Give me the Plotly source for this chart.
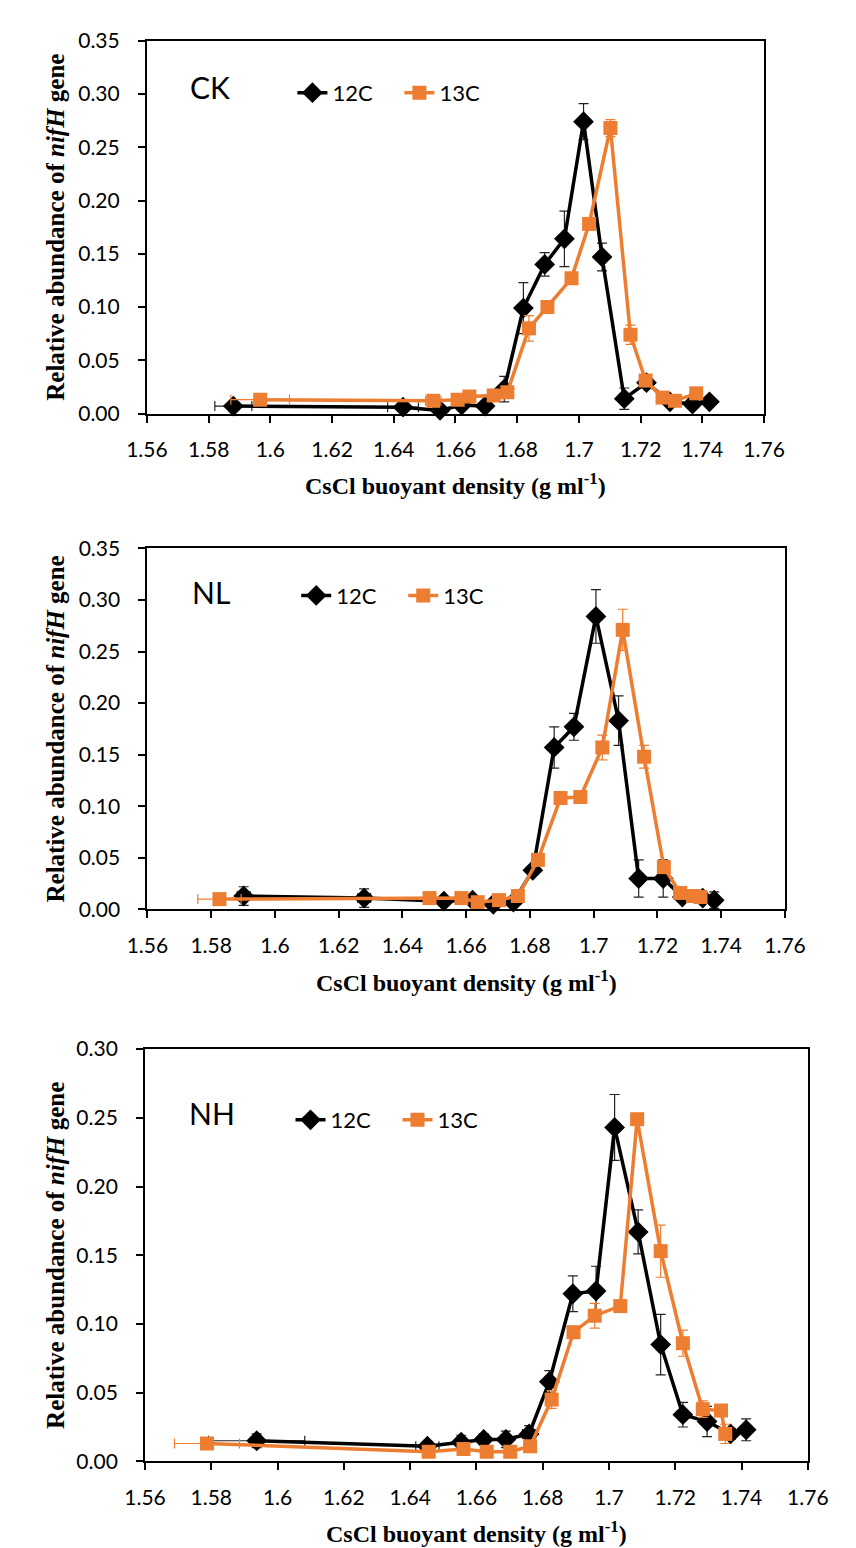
import plotly.graph_objects as go

# ---------------- data ----------------
panel_names = ["CK", "NL", "NH"]
series_names = ["12C", "13C"]

# CK
ck_x12 = [1.588, 1.643, 1.655, 1.662, 1.6696, 1.6758, 1.682, 1.6889, 1.6953, 1.7015, 1.7075, 1.7147, 1.7219, 1.7295, 1.7368, 1.7423]
ck_y12 = [0.007, 0.006, 0.003, 0.008, 0.007, 0.023, 0.099, 0.140, 0.164, 0.274, 0.147, 0.014, 0.029, 0.011, 0.009, 0.011]
ck_ey12 = [0.002, 0.002, 0.002, 0.003, 0.003, 0.012, 0.024, 0.011, 0.026, 0.017, 0.013, 0.010, 0.005, 0.003, 0.002, 0.003]
ck_ex12 = [0.006, 0.005, 0, 0, 0, 0, 0, 0, 0, 0, 0, 0, 0, 0, 0, 0.001]
ck_x13 = [1.5967, 1.6528, 1.6607, 1.6645, 1.6724, 1.6768, 1.6838, 1.6898, 1.6976, 1.7033, 1.7102, 1.7167, 1.7216, 1.7271, 1.7311, 1.738]
ck_y13 = [0.013, 0.012, 0.013, 0.016, 0.017, 0.020, 0.080, 0.100, 0.127, 0.178, 0.268, 0.074, 0.031, 0.015, 0.012, 0.019]
ck_ey13 = [0.002, 0.003, 0.002, 0.002, 0.002, 0.003, 0.012, 0.003, 0.003, 0.003, 0.008, 0.009, 0.003, 0.002, 0.002, 0.002]
ck_ex13 = [0.0095, 0.0025, 0.001, 0, 0, 0, 0, 0, 0, 0, 0, 0, 0, 0, 0, 0]

# NL
nl_x12 = [1.5902, 1.628, 1.653, 1.662, 1.6685, 1.6748, 1.6809, 1.6876, 1.6938, 1.7007, 1.7078, 1.7141, 1.7218, 1.7278, 1.7342, 1.7378]
nl_y12 = [0.013, 0.011, 0.008, 0.009, 0.005, 0.007, 0.038, 0.157, 0.177, 0.284, 0.183, 0.030, 0.030, 0.012, 0.011, 0.009]
nl_ey12 = [0.009, 0.009, 0.004, 0.003, 0.003, 0.004, 0.004, 0.020, 0.013, 0.026, 0.024, 0.018, 0.018, 0.004, 0.004, 0.008]
nl_ex12 = [0.002, 0.002, 0, 0, 0, 0, 0, 0, 0, 0, 0, 0, 0, 0, 0, 0]
nl_x13 = [1.5826, 1.6485, 1.6585, 1.6636, 1.6703, 1.6762, 1.6825, 1.6896, 1.6958, 1.7027, 1.7091, 1.7158, 1.722, 1.7271, 1.7311, 1.7335]
nl_y13 = [0.010, 0.011, 0.011, 0.007, 0.009, 0.013, 0.048, 0.108, 0.109, 0.157, 0.271, 0.148, 0.041, 0.016, 0.013, 0.012]
nl_ey13 = [0.002, 0.002, 0.002, 0.002, 0.002, 0.003, 0.004, 0.003, 0.003, 0.012, 0.020, 0.011, 0.004, 0.003, 0.002, 0.002]
nl_ex13 = [0.0068, 0, 0, 0, 0, 0, 0, 0, 0, 0, 0, 0, 0, 0, 0, 0]

# NH
nh_x12 = [1.5937, 1.6452, 1.6554, 1.6622, 1.6689, 1.6759, 1.682, 1.6891, 1.6961, 1.7017, 1.7088, 1.7156, 1.7223, 1.7296, 1.7367, 1.7414]
nh_y12 = [0.015, 0.011, 0.014, 0.016, 0.016, 0.020, 0.058, 0.122, 0.124, 0.243, 0.167, 0.085, 0.034, 0.029, 0.020, 0.023]
nh_ey12 = [0.005, 0.003, 0.005, 0.004, 0.006, 0.006, 0.008, 0.013, 0.018, 0.024, 0.016, 0.022, 0.009, 0.011, 0.004, 0.008]
nh_ex12 = [0.0145, 0.0035, 0, 0, 0, 0.002, 0, 0, 0, 0, 0, 0, 0, 0, 0, 0.001]
nh_x13 = [1.5787, 1.6456, 1.6561, 1.6631, 1.6702, 1.6762, 1.6827, 1.6893, 1.6957, 1.7034, 1.7085, 1.7156, 1.7223, 1.7283, 1.7338, 1.7351]
nh_y13 = [0.013, 0.007, 0.009, 0.007, 0.007, 0.011, 0.045, 0.094, 0.106, 0.113, 0.249, 0.153, 0.086, 0.038, 0.037, 0.020]
nh_ey13 = [0.002, 0.002, 0.002, 0.002, 0.002, 0.002, 0.0065, 0.002, 0.009, 0.002, 0.002, 0.019, 0.0095, 0.006, 0.004, 0.007]
nh_ex13 = [0.0098, 0, 0, 0, 0, 0, 0, 0, 0, 0, 0, 0, 0, 0, 0, 0]

y_max = [0.35, 0.35, 0.30]
x_range = [1.56, 1.76]

# ---------------- layout / styling ----------------
W, H = 856, 1548
BLACK = "#000000"
ORANGE = "#ED7D31"
TICK_FONT = dict(family="Lato, Open Sans, sans-serif", size=21, color="#000000")
YTITLE_FONT = dict(family="Liberation Serif, DejaVu Serif, serif", size=25, color="#000000")
XTITLE_FONT = dict(family="Liberation Serif, DejaVu Serif, serif", size=24, color="#000000")


def px(v):
    return v / W


def py(v):
    return 1 - v / H


# plot-area boxes in pixels: left, right, top, bottom
boxes = [(124, 773, 19, 398), (124.5, 795, 535, 902), (122, 819, 1044, 1463)]
legend_pos = [(277, 72), (281, 583), (275, 1116)]
label_pos = [(167, 66), (169, 579), (166, 1109)]
xtitle_y = [470, 975, 1535]

data = [
    (ck_x12, ck_y12, ck_ey12, ck_ex12, ck_x13, ck_y13, ck_ey13, ck_ex13),
    (nl_x12, nl_y12, nl_ey12, nl_ex12, nl_x13, nl_y13, nl_ey13, nl_ex13),
    (nh_x12, nh_y12, nh_ey12, nh_ex12, nh_x13, nh_y13, nh_ey13, nh_ex13),
]

fig = go.Figure()
annotations = []
layout_axes = {}
legends = {}

for i, (name, d) in enumerate(zip(panel_names, data)):
    n = "" if i == 0 else str(i + 1)
    xa, ya = "x" + n, "y" + n
    lg = "legend" + n
    x12, y12, ey12, ex12, x13, y13, ey13, ex13 = d
    fig.add_trace(go.Scatter(
        x=x12, y=y12, xaxis=xa, yaxis=ya, mode="lines+markers", name=series_names[0],
        legend=lg, cliponaxis=False,
        line=dict(color=BLACK, width=3.5),
        marker=dict(symbol="diamond", size=16, color=BLACK),
        error_y=dict(type="data", array=ey12, color="#222222", thickness=1.2, width=5),
        error_x=dict(type="data", array=ex12, color="#222222", thickness=1.2, width=5),
    ))
    fig.add_trace(go.Scatter(
        x=x13, y=y13, xaxis=xa, yaxis=ya, mode="lines+markers", name=series_names[1],
        legend=lg, cliponaxis=False,
        line=dict(color=ORANGE, width=3.5),
        marker=dict(symbol="square", size=14, color=ORANGE),
        error_y=dict(type="data", array=ey13, color=ORANGE, thickness=1.2, width=5),
        error_x=dict(type="data", array=ex13, color=ORANGE, thickness=1.2, width=5),
    ))

    l, r, t, b = boxes[i]
    common = dict(showline=True, linecolor=BLACK, linewidth=2, mirror=True,
                  ticks="outside", ticklen=7, tickwidth=2, tickcolor=BLACK,
                  showgrid=False, zeroline=False, tickfont=TICK_FONT)
    layout_axes["xaxis" + n] = dict(domain=[px(l), px(r)], range=x_range, tick0=1.56, dtick=0.02,
                                    anchor=ya, ticklabelstandoff=9, **common)
    layout_axes["yaxis" + n] = dict(domain=[py(b), py(t)], range=[0, y_max[i]], tick0=0, dtick=0.05,
                                    tickformat=".2f", anchor=xa, ticklabelstandoff=14, **common)

    lx, ly = legend_pos[i]
    legends[lg] = dict(orientation="h", x=px(lx), y=py(ly), xanchor="left", yanchor="middle",
                       bgcolor="rgba(0,0,0,0)", font=dict(family="Lato, sans-serif", size=22, color=BLACK),
                       itemwidth=30, entrywidth=62, traceorder="normal")

    # y axis title
    annotations.append(dict(text="<b>Relative abundance of <i>nifH</i> gene</b>", textangle=-90,
                            xref="paper", yref="paper", x=px(28), y=py((t + b) / 2),
                            xanchor="center", yanchor="middle", showarrow=False, font=YTITLE_FONT))
    # x axis title
    annotations.append(dict(text="<b>CsCl buoyant density (g ml<sup>-1</sup>)</b>",
                            xref="paper", yref="paper", x=px((l + r) / 2), y=py(xtitle_y[i]),
                            xanchor="center", yanchor="middle", showarrow=False, font=XTITLE_FONT))
    # panel label
    lpx, lpy = label_pos[i]
    annotations.append(dict(text=name, xref="paper", yref="paper", x=px(lpx), y=py(lpy),
                            xanchor="left", yanchor="middle", showarrow=False,
                            font=dict(family="Lato, sans-serif", size=30, color=BLACK)))

fig.update_layout(
    width=W, height=H,
    margin=dict(l=0, r=0, t=0, b=0),
    paper_bgcolor="white", plot_bgcolor="white",
    annotations=annotations,
    **layout_axes,
    **legends,
)

fig.write_html("out.html")
